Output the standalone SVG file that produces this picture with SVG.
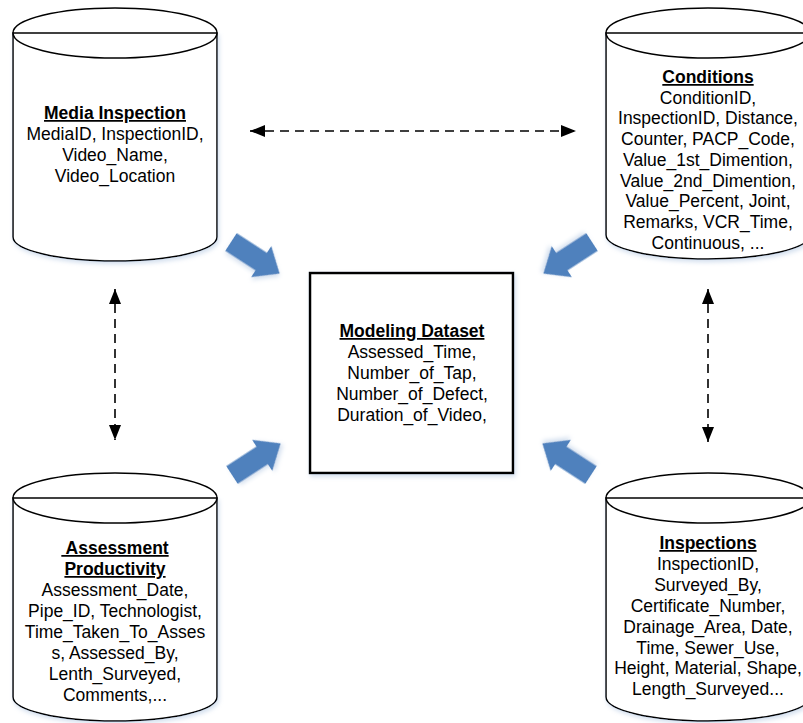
<svg xmlns="http://www.w3.org/2000/svg" width="803" height="723" viewBox="0 0 803 723">
<defs>
<style>
.cyl{fill:#ffffff;stroke:#000000;stroke-width:1.5}
.t{font-family:"Liberation Sans",Arial,sans-serif;font-size:17.5px;fill:#000000;text-anchor:middle}
.h{font-weight:bold;text-decoration:underline}
.dash{fill:none;stroke:#000000;stroke-width:1.6;stroke-dasharray:9 6}
.blk{fill:#4F81BD;stroke:none}
</style>
<filter id="sh" x="-10%" y="-10%" width="130%" height="130%">
<feDropShadow dx="1.5" dy="2.5" stdDeviation="2" flood-color="#9fb9da" flood-opacity="0.45"/>
</filter>
<marker id="ah" markerUnits="userSpaceOnUse" markerWidth="16" markerHeight="13" refX="15" refY="6" orient="auto-start-reverse">
<path d="M0,0 L15,6 L0,12 z" fill="#000000"/>
</marker>
<path id="barrow" d="M0,-10.5 L36,-10.5 L36,-18.5 L58,0 L36,18.5 L36,10.5 L0,10.5 z"/>
</defs>

<g id="connectors">
<line class="dash" x1="250" y1="131" x2="576" y2="131" marker-start="url(#ah)" marker-end="url(#ah)"/>
<line class="dash" x1="115" y1="289" x2="115" y2="440" marker-start="url(#ah)" marker-end="url(#ah)"/>
<line class="dash" x1="708" y1="289" x2="708" y2="442" marker-start="url(#ah)" marker-end="url(#ah)"/>
<use href="#barrow" class="blk" filter="url(#sh)" transform="translate(231,242) rotate(33)"/>
<use href="#barrow" class="blk" filter="url(#sh)" transform="translate(592,242) rotate(147)"/>
<use href="#barrow" class="blk" filter="url(#sh)" transform="translate(232,475) rotate(-33)"/>
<use href="#barrow" class="blk" filter="url(#sh)" transform="translate(591,475) rotate(-147)"/>
</g>

<g id="media-inspection">
<path class="cyl" filter="url(#sh)" d="M13,33 L13,237 A102,24 0 0 0 217,237 L217,33 z"/>
<ellipse class="cyl" cx="115" cy="33" rx="102" ry="25"/>
<line x1="13" y1="33" x2="217" y2="33" stroke="#000" stroke-width="1.5"/>
<text class="t h" x="115" y="119">Media Inspection</text>
<text class="t" x="115" y="140">MediaID, InspectionID,</text>
<text class="t" x="115" y="161">Video_Name,</text>
<text class="t" x="115" y="182">Video_Location</text>
</g>

<g id="conditions">
<path class="cyl" filter="url(#sh)" d="M606,33 L606,235 A102,24 0 0 0 810,235 L810,33 z"/>
<ellipse class="cyl" cx="708" cy="33" rx="102" ry="25"/>
<line x1="606" y1="33" x2="810" y2="33" stroke="#000" stroke-width="1.5"/>
<text class="t h" x="708" y="83">Conditions</text>
<text class="t" x="708" y="104">ConditionID,</text>
<text class="t" x="708" y="124">InspectionID, Distance,</text>
<text class="t" x="708" y="145">Counter, PACP_Code,</text>
<text class="t" x="708" y="166">Value_1st_Dimention,</text>
<text class="t" x="708" y="187">Value_2nd_Dimention,</text>
<text class="t" x="708" y="207">Value_Percent, Joint,</text>
<text class="t" x="708" y="228">Remarks, VCR_Time,</text>
<text class="t" x="708" y="249">Continuous,  ...</text>
</g>

<g id="modeling-dataset">
<rect x="310" y="273" width="203" height="200" fill="#ffffff" stroke="#000000" stroke-width="2.5" filter="url(#sh)"/>
<text class="t h" x="412" y="337">Modeling Dataset</text>
<text class="t" x="412" y="358">Assessed_Time,</text>
<text class="t" x="412" y="379">Number_of_Tap,</text>
<text class="t" x="412" y="400">Number_of_Defect,</text>
<text class="t" x="412" y="421">Duration_of_Video,</text>
</g>

<g id="assessment-productivity">
<path class="cyl" filter="url(#sh)" d="M13,498 L13,697 A102,24 0 0 0 217,697 L217,498 z"/>
<ellipse class="cyl" cx="115" cy="498" rx="102" ry="25"/>
<line x1="13" y1="498" x2="217" y2="498" stroke="#000" stroke-width="1.5"/>
<text class="t h" x="115" y="554" xml:space="preserve"> Assessment</text>
<text class="t h" x="115" y="575">Productivity</text>
<text class="t" x="115" y="596">Assessment_Date,</text>
<text class="t" x="115" y="617">Pipe_ID, Technologist,</text>
<text class="t" x="115" y="638">Time_Taken_To_Asses</text>
<text class="t" x="115" y="659">s, Assessed_By,</text>
<text class="t" x="115" y="680">Lenth_Surveyed,</text>
<text class="t" x="115" y="701">Comments,...</text>
</g>

<g id="inspections">
<path class="cyl" filter="url(#sh)" d="M606,498 L606,697 A102,24 0 0 0 810,697 L810,498 z"/>
<ellipse class="cyl" cx="708" cy="498" rx="102" ry="25"/>
<line x1="606" y1="498" x2="810" y2="498" stroke="#000" stroke-width="1.5"/>
<text class="t h" x="708" y="549">Inspections</text>
<text class="t" x="708" y="570">InspectionID,</text>
<text class="t" x="708" y="591">Surveyed_By,</text>
<text class="t" x="708" y="612">Certificate_Number,</text>
<text class="t" x="708" y="633">Drainage_Area, Date,</text>
<text class="t" x="708" y="654">Time, Sewer_Use,</text>
<text class="t" x="708" y="674">Height, Material, Shape,</text>
<text class="t" x="708" y="695">Length_Surveyed...</text>
</g>
</svg>
